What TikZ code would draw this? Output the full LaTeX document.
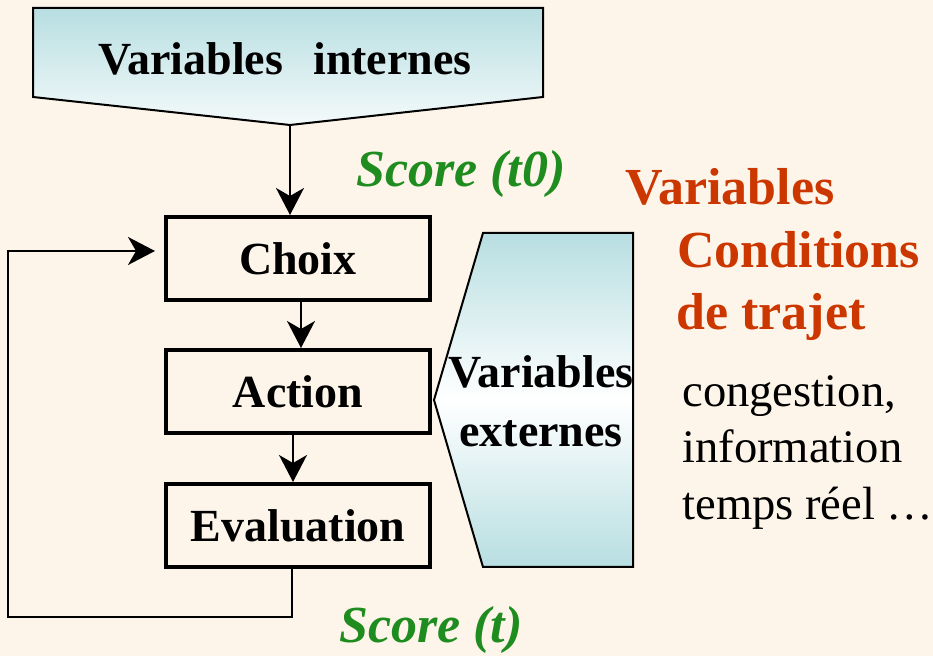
\documentclass[tikz,border=0pt]{standalone}
\usepackage{fontspec}
\setmainfont{Liberation Serif}
\usetikzlibrary{arrows.meta}
\definecolor{bg}{RGB}{254,245,234}
\definecolor{tealc}{RGB}{183,222,225}
\definecolor{redc}{RGB}{204,55,0}
\definecolor{greenc}{RGB}{30,140,30}
\begin{document}
\begin{tikzpicture}[x=0.5pt,y=-0.5pt,
  stepbox/.style={draw,line width=2pt,fill=bg,minimum width=132pt,minimum height=41.5pt,inner sep=0pt,font=\fontsize{23}{27}\selectfont\bfseries},
  boxtext/.style={font=\fontsize{23}{29.5}\selectfont\bfseries,inner sep=0pt,align=center},
  arr/.style={line width=1pt,-{Stealth[length=13.5pt,width=14pt,inset=4pt]}},
  shapeline/.style={line width=1pt},
  redtext/.style={font=\fontsize{26}{30}\selectfont\bfseries,text=redc,anchor=base west,inner sep=0pt},
  plaintext/.style={font=\fontsize{23.3}{28}\selectfont,anchor=base west,inner sep=0pt},
  score/.style={font=\fontsize{26}{30}\selectfont\bfseries\itshape,text=greenc,anchor=base,inner sep=0pt}]
\fill[bg] (0,0) rectangle (933,656);
\useasboundingbox (0,0) rectangle (933,656);
% Variables internes
\draw[shapeline,top color=tealc,bottom color=white!85!tealc] (33,8) -- (543,8) -- (543,97) -- (290,125) -- (33,97) -- cycle;
\node[boxtext,anchor=base] (vi) at (285,75) {Variables\hspace{15pt}internes};
\coordinate (vitip) at (290,125);
% Variables externes
\draw[shapeline,top color=tealc,bottom color=tealc,middle color=white] (483,233) -- (633,233) -- (633,567) -- (483,567) -- (434,400) -- cycle;
\node[boxtext] (ve) at (541,401) {Variables\\externes};
% boxes
\node[stepbox] (choix) at (298,258.5) {Choix};
\node[stepbox] (action) at (298,391.5) {Action};
\node[stepbox] (eval) at (298,525.5) {Evaluation};
% connectors
\draw[arr] (vitip) -- (vitip |- choix.north);
\draw[arr] ([xshift=1.5pt]choix.south) -- ([xshift=1.5pt]action.north);
\draw[arr] ([xshift=-2.5pt]action.south) -- ([xshift=-2.5pt]eval.north);
\coordinate (lb) at (8,617);
\draw[arr] ([xshift=-3pt]eval.south) |- (lb) |- ([shift={(-4.5pt,3.75pt)}]choix.west);
% labels
\node[score] (s0) at (461,187) {Score (t0)};
\node[score] (st) at (431,643) {Score (t)};
\node[redtext] (r1) at (625,205) {Variables};
\node[redtext] (r2) at (677,268) {Conditions};
\node[redtext] (r3) at (676,330) {de trajet};
\node[plaintext] (p1) at (682,407) {congestion,};
\node[plaintext] (p2) at (682,463) {information};
\node[plaintext] (p3) at (682,520) {temps réel …};
\end{tikzpicture}
\end{document}
